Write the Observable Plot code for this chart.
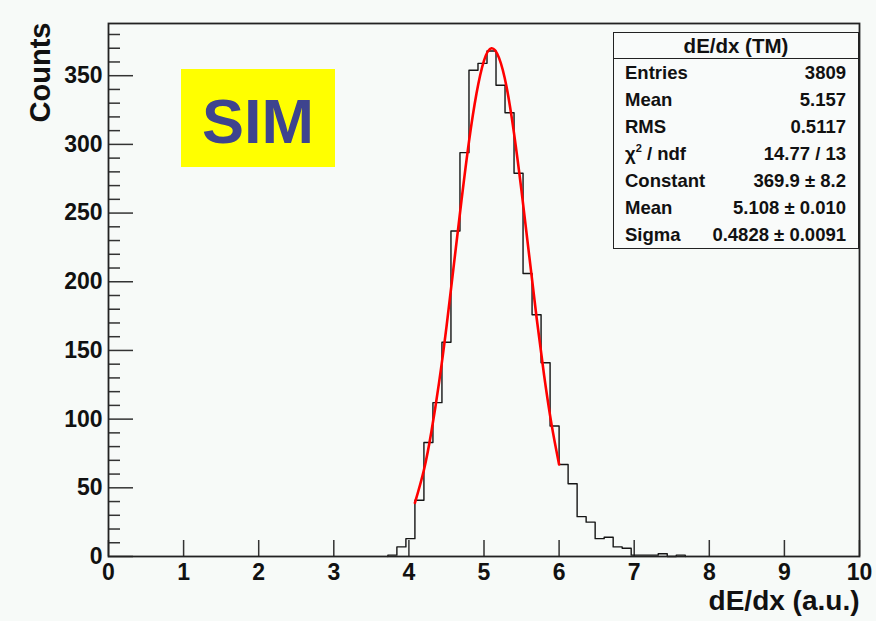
<!DOCTYPE html>
<html><head><meta charset="utf-8">
<script src="https://cdn.jsdelivr.net/npm/d3@7"></script>
<script src="https://cdn.jsdelivr.net/npm/@observablehq/plot@0.6"></script>
<style>
html,body{margin:0;padding:0;background:#f7faf8;}
#wrap{position:relative;width:876px;height:621px;overflow:hidden;font-family:"Liberation Sans",Arial,sans-serif;color:#111;}
#wrap svg{position:absolute;left:0;top:0;}
#sim{position:absolute;left:181px;top:69px;width:154px;height:98px;background:#ffff00;color:#3e448e;font-weight:bold;font-size:63px;line-height:104px;text-align:center;overflow:hidden;}
#stats{position:absolute;left:613px;top:32px;width:246px;height:217px;box-sizing:border-box;border:1px solid #222;background:#f9fbfa;font-weight:bold;font-size:18.5px;}
#stats .title{height:25px;line-height:25px;text-align:center;border-bottom:1px solid #222;font-size:20.5px;}
#stats .rows{padding-top:0px;}
#stats .row{display:flex;justify-content:space-between;height:27px;line-height:27px;padding:0 12px 0 11px;}
#stats sup{font-size:11px;line-height:0;vertical-align:8px;}
</style></head><body><div id="wrap"></div>
<script>
// Histogram: bin lower edges (width 0.12) and counts
const binWidth = 0.12;
const binLow = [3.72,3.84,3.96,4.08,4.20,4.32,4.44,4.56,4.68,4.80,4.92,5.04,5.16,5.28,5.40,5.52,5.64,5.76,5.88,6.00,6.12,6.24,6.36,6.48,6.60,6.72,6.84,6.96,7.08,7.20,7.32,7.44,7.56];
const counts = [1,7,13,41,83,112,156,237,294,354,359,368,343,323,279,206,176,141,95,67,53,29,25,13,14,7,6,1,1,1,2,0,1];

// Red fit curve
const fitX = [4.08,4.2,4.3,4.4,4.5,4.6,4.7,4.8,4.9,5.0,5.1,5.2,5.3,5.4,5.5,5.6,5.7,5.8,5.9,6.0];
const fitY = [39,63,91,126,167,213,259,302,337,361,370,363,342,308,266,220,174,132,96,67];

const xTicks = [0,1,2,3,4,5,6,7,8,9,10];
const yMajor = [0,50,100,150,200,250,300,350];
const yMinor = [10,20,30,40,60,70,80,90,110,120,130,140,160,170,180,190,210,220,230,240,260,270,280,290,310,320,330,340,360,370,380];
const yMax = 388;
const xTitle = "dE/dx (a.u.)";
const yTitle = "Counts";

const statsTitle = "dE/dx (TM)";
const statLabels = ["Entries","Mean","RMS","χ<sup>2</sup> / ndf","Constant","Mean","Sigma"];
const statValues = ["3809","5.157","0.5117","14.77 / 13","369.9 ± 8.2","5.108 ± 0.010","0.4828 ± 0.0091"];

const W = 876, H = 621, mL = 108, mR = 17, mT = 23, mB = 65;
const pxX = 10 / (W - mL - mR), pxY = yMax / (H - mT - mB);

const histPts = [{x: binLow[0], y: 0}];
binLow.forEach((x, i) => histPts.push({x, y: counts[i]}));
histPts.push({x: binLow[binLow.length - 1] + binWidth, y: 0});
const fitPts = fitX.map((x, i) => ({x, y: fitY[i]}));

const tickStyle = {stroke: "#333", strokeWidth: 1.5};
const chart = Plot.plot({
  width: W, height: H,
  marginLeft: mL, marginRight: mR, marginTop: mT, marginBottom: mB,
  x: {domain: [0, 10]},
  y: {domain: [0, yMax]},
  style: {background: "transparent", fontFamily: "'Liberation Sans', Arial, sans-serif", fontWeight: "bold", fontSize: "23px", color: "#111", overflow: "visible"},
  marks: [
    Plot.ruleY(yMinor, {y: d => d, x1: 0, x2: 12 * pxX, ...tickStyle}),
    Plot.ruleY(yMajor, {y: d => d, x1: 0, x2: 25 * pxX, ...tickStyle}),
    Plot.ruleX(xTicks, {x: d => d, y1: 0, y2: 16 * pxY, ...tickStyle}),
    Plot.axisY({ticks: yMajor, tickSize: 0, tickPadding: 6, label: null, tickFormat: d => String(d)}),
    Plot.axisX({ticks: xTicks, tickSize: 0, tickPadding: 7, label: null, tickFormat: d => String(d)}),
    Plot.line(histPts, {x: "x", y: "y", curve: "step-after", stroke: "#151515", strokeWidth: 1.4}),
    Plot.line(fitPts, {x: "x", y: "y", curve: "natural", stroke: "#ff0000", strokeWidth: 2.6}),
    Plot.frame({stroke: "#222", strokeWidth: 1.8}),
    Plot.text([yTitle], {frameAnchor: "top-left", text: d => d, rotate: -90, textAnchor: "end", lineAnchor: "middle", dx: -68, dy: -1, fontSize: 29}),
    Plot.text([xTitle], {frameAnchor: "bottom-right", text: d => d, textAnchor: "end", lineAnchor: "bottom", dy: 53, fontSize: 28})
  ]
});
const wrap = document.getElementById("wrap");
wrap.appendChild(chart);

const sim = document.createElement("div");
sim.id = "sim"; sim.textContent = "SIM";
wrap.appendChild(sim);

const stats = document.createElement("div");
stats.id = "stats";
let html = `<div class="title">${statsTitle}</div><div class="rows">`;
statLabels.forEach((l, i) => { html += `<div class="row"><span>${l}</span><span>${statValues[i]}</span></div>`; });
html += "</div>";
stats.innerHTML = html;
wrap.appendChild(stats);
</script></body></html>
